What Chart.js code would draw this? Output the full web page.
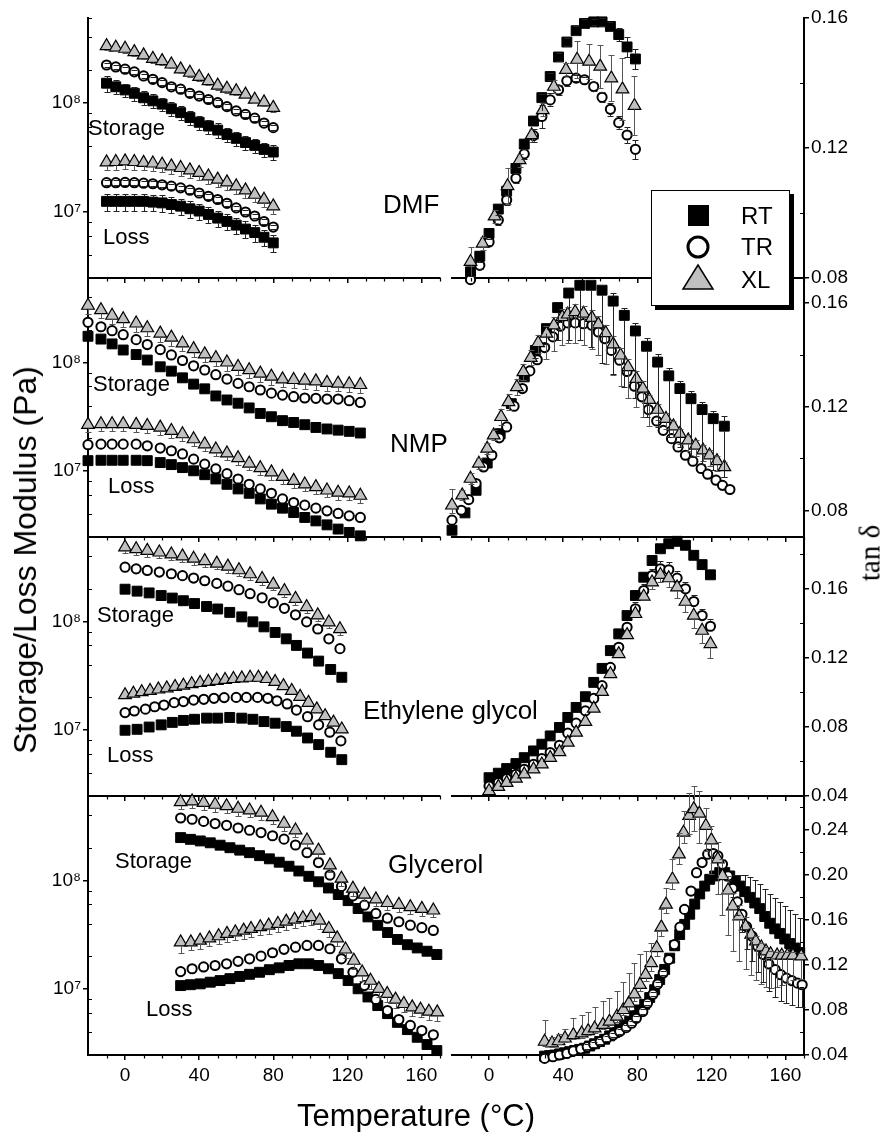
<!DOCTYPE html>
<html>
<head>
<meta charset="utf-8">
<title>Storage/Loss modulus and tan δ</title>
<script src="https://cdn.jsdelivr.net/npm/chart.js@4.4.1/dist/chart.umd.min.js"></script>
<style>
  body { margin: 0; background: #fff; }
  #fig { position: relative; width: 893px; height: 1132px; overflow: hidden; background: #fff;
         font-family: Arial, "Liberation Sans", Helvetica, sans-serif; color: #000; }
  #fig canvas { position: absolute; }
  .txt { position: absolute; white-space: nowrap; line-height: 1; z-index: 5; }
  .rot { transform: translate(-50%, -50%) rotate(-90deg); }
  #legend { position: absolute; left: 651px; top: 190px; width: 137px; height: 114px; background: #fff;
            border: 1px solid #000; box-shadow: 4px 4px 0 #000; z-index: 6; }
  #legend span { position: absolute; left: 89px; font-size: 24px; line-height: 1; }
</style>
</head>
<body>
<div id="fig">
  <div class="txt" style="left:88px;top:117px;font-size:22px">Storage</div>
  <div class="txt" style="left:103px;top:226px;font-size:22px">Loss</div>
  <div class="txt" style="left:383px;top:191px;font-size:26px">DMF</div>

  <div class="txt" style="left:93px;top:373px;font-size:22px">Storage</div>
  <div class="txt" style="left:108px;top:475px;font-size:22px">Loss</div>
  <div class="txt" style="left:390px;top:430px;font-size:26px">NMP</div>

  <div class="txt" style="left:97px;top:604px;font-size:22px">Storage</div>
  <div class="txt" style="left:107px;top:744px;font-size:22px">Loss</div>
  <div class="txt" style="left:363px;top:697px;font-size:26px">Ethylene glycol</div>

  <div class="txt" style="left:115px;top:850px;font-size:22px">Storage</div>
  <div class="txt" style="left:146px;top:998px;font-size:22px">Loss</div>
  <div class="txt" style="left:388px;top:851px;font-size:26px">Glycerol</div>

  <div class="txt" style="left:416px;top:1100px;font-size:31px;transform:translateX(-50%)">Temperature (°C)</div>
  <div class="txt rot" style="left:25px;top:560px;font-size:32px">Storage/Loss Modulus (Pa)</div>
  <div class="txt rot" style="left:870px;top:553px;font-size:29px;font-family:'Liberation Serif','Times New Roman',serif">tan δ</div>

  <div id="legend">
    <svg width="137" height="114" style="position:absolute;left:0;top:0">
      <rect x="36" y="14" width="21" height="21" fill="#000"/>
      <circle cx="46" cy="56" r="10" fill="#fff" stroke="#000" stroke-width="3"/>
      <polygon points="46,74 31,98 61,98" fill="#c0c0c0" stroke="#000" stroke-width="1.5"/>
    </svg>
    <span style="top:13px">RT</span>
    <span style="top:44px">TR</span>
    <span style="top:77px">XL</span>
  </div>
</div>

<script>
// ---------------- DMF ----------------
const dmfT = [-10, -5, 0, 5, 10, 15, 20, 25, 30, 35, 40, 45, 50, 55, 60, 65, 70, 75, 80];
const dmfStoXL = [3.32e8, 3.21e8, 3.14e8, 2.93e8, 2.73e8, 2.54e8, 2.42e8, 2.25e8, 2.03e8, 1.89e8, 1.73e8, 1.58e8, 1.44e8, 1.35e8, 1.28e8, 1.19e8, 1.07e8, 1.01e8, 9.0e7];
const dmfStoTR = [2.22e8, 2.13e8, 2.03e8, 1.92e8, 1.76e8, 1.64e8, 1.53e8, 1.40e8, 1.33e8, 1.22e8, 1.15e8, 1.07e8, 1.00e8, 9.2e7, 8.4e7, 7.8e7, 7.2e7, 6.5e7, 5.9e7];
const dmfStoRT = [1.51e8, 1.40e8, 1.31e8, 1.22e8, 1.11e8, 1.04e8, 9.7e7, 8.8e7, 8.1e7, 7.3e7, 6.6e7, 6.1e7, 5.6e7, 5.1e7, 4.7e7, 4.3e7, 4.05e7, 3.72e7, 3.52e7];
const dmfLosXL = [2.84e7, 2.86e7, 2.90e7, 2.86e7, 2.81e7, 2.77e7, 2.71e7, 2.61e7, 2.52e7, 2.40e7, 2.27e7, 2.11e7, 1.97e7, 1.86e7, 1.71e7, 1.57e7, 1.43e7, 1.29e7, 1.12e7];
const dmfLosTR = [1.84e7, 1.84e7, 1.85e7, 1.84e7, 1.82e7, 1.80e7, 1.76e7, 1.71e7, 1.65e7, 1.57e7, 1.48e7, 1.38e7, 1.29e7, 1.19e7, 1.08e7, 9.9e6, 9.1e6, 8.1e6, 7.2e6];
const dmfLosRT = [1.24e7, 1.24e7, 1.24e7, 1.24e7, 1.24e7, 1.22e7, 1.20e7, 1.16e7, 1.12e7, 1.06e7, 1.01e7, 9.4e6, 8.7e6, 8.1e6, 7.5e6, 6.9e6, 6.4e6, 5.8e6, 5.15e6];
const dmfStoXLErr = [2.6e7, 2.5e7, 2.5e7, 2.3e7, 2.2e7, 2.0e7, 1.9e7, 1.8e7, 1.6e7, 1.5e7, 1.4e7, 1.3e7, 1.2e7, 1.1e7, 1.0e7, 9.5e6, 8.6e6, 8.0e6, 7.2e6];
const dmfStoTRErr = [1.1e7, 1.0e7, 1.0e7, 9.5e6, 9.0e6, 8.0e6, 7.5e6, 7.0e6, 6.5e6, 6.0e6, 5.5e6, 5.0e6, 5.0e6, 4.5e6, 4.0e6, 4.0e6, 3.5e6, 3.2e6, 3.0e6];
const dmfStoRTErr = [2.5e7, 2.1e7, 1.9e7, 1.8e7, 1.6e7, 1.5e7, 1.4e7, 1.3e7, 1.2e7, 1.1e7, 1.0e7, 9.0e6, 8.4e6, 7.6e6, 7.0e6, 6.4e6, 6.0e6, 5.6e6, 5.3e6];
const dmfLosXLErr = [4.3e6, 4.3e6, 4.4e6, 4.3e6, 4.2e6, 4.2e6, 4.1e6, 3.9e6, 3.8e6, 3.6e6, 3.4e6, 3.2e6, 3.0e6, 2.8e6, 2.6e6, 2.4e6, 2.1e6, 1.9e6, 1.7e6];
const dmfLosTRErr = [9e5, 9e5, 9e5, 9e5, 9e5, 9e5, 9e5, 8.5e5, 8e5, 8e5, 7e5, 7e5, 6.5e5, 6e5, 5.5e5, 5e5, 4.5e5, 4e5, 3.5e5];
const dmfLosRTErr = [2.2e6, 2.2e6, 2.2e6, 2.2e6, 2.2e6, 2.1e6, 2.1e6, 2.0e6, 1.9e6, 1.8e6, 1.7e6, 1.6e6, 1.5e6, 1.4e6, 1.3e6, 1.2e6, 1.1e6, 1.0e6, 9e5];

const dmfTanT = [-10, -5, 0, 5, 9.5, 14.5, 19, 24, 28.5, 33, 37.5, 42, 47, 51.5, 56.5, 61, 65.5, 70, 74.5, 79];
const dmfTanRT = [0.0819, 0.0867, 0.0937, 0.1012, 0.1067, 0.1137, 0.1212, 0.1283, 0.1355, 0.1420, 0.1480, 0.1526, 0.1561, 0.1583, 0.1588, 0.1588, 0.1574, 0.1549, 0.1511, 0.1474];
const dmfTanTR = [0.0795, 0.0839, 0.0911, 0.0978, 0.1040, 0.1107, 0.1182, 0.1238, 0.1297, 0.1348, 0.1379, 0.1407, 0.1415, 0.1410, 0.1389, 0.1356, 0.1319, 0.1278, 0.1240, 0.1196];
const dmfTanXLT = [-10, -3.5, 3, 10, 16.5, 23, 29, 35, 41.5, 47.5, 54, 60, 66, 72, 78.5];
const dmfTanXL = [0.0850, 0.0906, 0.0990, 0.1083, 0.1163, 0.1240, 0.1317, 0.1389, 0.1441, 0.1472, 0.1466, 0.1451, 0.1415, 0.1381, 0.1330];
const dmfTanRTErr = [0, 0, 0, 0, 0, 0, 0, 0, 0.0012, 0.0012, 0.0012, 0.0012, 0.0013, 0.0013, 0.001, 0.0012, 0.0015, 0.002, 0.003, 0.0032];
const dmfTanTRErr = [0.001, 0.001, 0.001, 0.0015, 0.0015, 0.0015, 0.0015, 0.002, 0.0035, 0.002, 0.0015, 0.0015, 0.001, 0.001, 0.0015, 0.0015, 0.002, 0.002, 0.0025, 0.003];
const dmfTanXLErr = [0.0045, 0.002, 0.002, 0.0055, 0.002, 0.002, 0.002, 0.002, 0.002, 0.0057, 0.0055, 0.0067, 0.007, 0.0095, 0.009];

// ---------------- NMP ----------------
const nmpT = [-20, -13, -7, -1, 6, 12, 19, 25, 31, 37, 43, 49, 55, 61, 67, 73, 79, 85, 91, 97, 103, 109, 115, 121, 127];
const nmpStoXL = [3.34e8, 3.04e8, 2.70e8, 2.51e8, 2.29e8, 2.07e8, 1.85e8, 1.70e8, 1.50e8, 1.33e8, 1.19e8, 1.10e8, 1.00e8, 9.1e7, 8.5e7, 7.9e7, 7.4e7, 7.0e7, 6.9e7, 6.8e7, 6.7e7, 6.5e7, 6.4e7, 6.3e7, 6.2e7];
const nmpStoTR = [2.34e8, 2.13e8, 1.96e8, 1.80e8, 1.62e8, 1.46e8, 1.31e8, 1.17e8, 1.04e8, 9.3e7, 8.5e7, 7.7e7, 7.0e7, 6.4e7, 5.96e7, 5.56e7, 5.2e7, 4.99e7, 4.82e7, 4.69e7, 4.66e7, 4.59e7, 4.59e7, 4.43e7, 4.27e7];
const nmpStoRT = [1.74e8, 1.64e8, 1.48e8, 1.30e8, 1.18e8, 1.05e8, 9.1e7, 8.3e7, 7.2e7, 6.3e7, 5.7e7, 4.9e7, 4.5e7, 4.2e7, 3.8e7, 3.38e7, 3.15e7, 2.90e7, 2.79e7, 2.66e7, 2.51e7, 2.43e7, 2.37e7, 2.31e7, 2.23e7];
const nmpLosXL = [2.66e7, 2.70e7, 2.70e7, 2.70e7, 2.66e7, 2.60e7, 2.51e7, 2.34e7, 2.18e7, 1.96e7, 1.76e7, 1.58e7, 1.45e7, 1.31e7, 1.17e7, 1.06e7, 9.7e6, 8.8e6, 8.1e6, 7.5e6, 7.1e6, 6.6e6, 6.3e6, 6.2e6, 5.9e6];
const nmpLosTR = [1.74e7, 1.76e7, 1.76e7, 1.76e7, 1.76e7, 1.70e7, 1.62e7, 1.53e7, 1.43e7, 1.28e7, 1.15e7, 1.04e7, 9.4e6, 8.4e6, 7.5e6, 6.8e6, 6.2e6, 5.5e6, 5.1e6, 4.82e6, 4.52e6, 4.27e6, 4.04e6, 3.84e6, 3.71e6];
const nmpLosRT = [1.24e7, 1.25e7, 1.25e7, 1.25e7, 1.25e7, 1.24e7, 1.19e7, 1.14e7, 1.07e7, 1.00e7, 9.2e6, 8.4e6, 7.5e6, 6.8e6, 6.2e6, 5.5e6, 4.92e6, 4.52e6, 4.12e6, 3.71e6, 3.45e6, 3.17e6, 2.90e6, 2.70e6, 2.51e6];
const nmpStoXLErr = [5.3e7, 4.9e7, 4.3e7, 4.0e7, 3.7e7, 3.3e7, 3.0e7, 2.7e7, 2.4e7, 2.1e7, 1.9e7, 1.8e7, 1.6e7, 1.5e7, 1.4e7, 1.3e7, 1.2e7, 1.1e7, 1.1e7, 1.1e7, 1.1e7, 1.0e7, 1.0e7, 1.0e7, 1.0e7];
const nmpLosXLErr = [3.7e6, 3.8e6, 3.8e6, 3.8e6, 3.7e6, 3.6e6, 3.5e6, 3.3e6, 3.1e6, 2.7e6, 2.5e6, 2.2e6, 2.0e6, 1.8e6, 1.6e6, 1.5e6, 1.4e6, 1.2e6, 1.1e6, 1.05e6, 1.0e6, 9.2e5, 8.8e5, 8.7e5, 8.3e5];

const nmpTanRT = [0.0723, 0.0790, 0.0877, 0.0982, 0.1095, 0.1211, 0.1314, 0.1416, 0.1500, 0.1581, 0.1637, 0.1667, 0.1667, 0.1648, 0.1606, 0.1551, 0.1491, 0.1432, 0.1371, 0.1318, 0.1269, 0.1230, 0.1188, 0.1153, 0.1124];
const nmpTanRTUp = [0, 0, 0, 0, 0, 0, 0, 0, 0, 0, 0, 0, 0.002, 0.002, 0.003, 0.003, 0.003, 0.003, 0.003, 0.003, 0.003, 0.003, 0.003, 0.003, 0.004];
const nmpTanRTDn = [0, 0, 0, 0, 0, 0, 0, 0.003, 0.006, 0.0126, 0.018, 0.021, 0.0237, 0.028, 0.028, 0.0276, 0.026, 0.0272, 0.025, 0.0235, 0.0225, 0.0225, 0.0208, 0.0199, 0.0195];
const nmpTanTRT = [-20, -15, -11, -7, -3, 1.5, 5.5, 9.5, 13.5, 18, 22, 26, 30, 34.5, 38.5, 42.5, 46.5, 51, 55.5, 59, 62.5, 66, 70.5, 74.5, 78.5, 82.5, 86, 90.5, 94, 98.5, 102, 106, 110, 114.5, 118, 122.5, 126, 130];
const nmpTanTR = [0.0762, 0.0800, 0.0841, 0.0903, 0.0967, 0.1012, 0.1079, 0.1121, 0.1201, 0.1269, 0.1337, 0.1380, 0.1427, 0.1468, 0.1509, 0.1522, 0.1522, 0.1519, 0.1513, 0.1487, 0.1461, 0.1416, 0.1378, 0.1335, 0.1278, 0.1237, 0.1188, 0.1144, 0.1108, 0.1076, 0.1044, 0.1012, 0.0989, 0.0961, 0.0939, 0.0916, 0.0896, 0.0880];
const nmpTanXLT = [-20, -14.5, -10, -5.5, -1, 2.5, 6.5, 10.5, 15, 18.5, 22.5, 26.5, 31, 35, 39.5, 42.5, 46.5, 51, 55.5, 59, 63, 67, 71, 75, 79.5, 83, 86.5, 91, 95.5, 99.5, 103, 107.5, 111.5, 115.5, 119, 123, 127];
const nmpTanXL = [0.0819, 0.0858, 0.0922, 0.0980, 0.1038, 0.1089, 0.1160, 0.1217, 0.1275, 0.1333, 0.1388, 0.1445, 0.1481, 0.1513, 0.1545, 0.1555, 0.1564, 0.1558, 0.1542, 0.1517, 0.1483, 0.1440, 0.1397, 0.1352, 0.1307, 0.1269, 0.1226, 0.1188, 0.1153, 0.1124, 0.1095, 0.1070, 0.1050, 0.1031, 0.1012, 0.0990, 0.0967];
const nmpTanXLUp = [0.0064, 0.002, 0.002, 0.002, 0.002, 0.002, 0.003, 0.003, 0.003, 0.003, 0.003, 0.003, 0.003, 0.003, 0.003, 0.003, 0.003, 0.003, 0.003, 0.003, 0.003, 0.003, 0.003, 0.003, 0.003, 0.003, 0.002, 0.002, 0.002, 0.002, 0.002, 0.002, 0.002, 0.002, 0.002, 0.002, 0.002];
const nmpTanXLDn = [0.003, 0.002, 0.002, 0.002, 0.002, 0.002, 0.003, 0.003, 0.003, 0.003, 0.003, 0.004, 0.01, 0.01, 0.011, 0.011, 0.012, 0.012, 0.012, 0.012, 0.012, 0.012, 0.012, 0.012, 0.011, 0.011, 0.01, 0.004, 0.004, 0.004, 0.004, 0.004, 0.004, 0.004, 0.004, 0.004, 0.004];

// ---------------- Ethylene glycol ----------------
const glyT_RT = [0, 6.5, 13, 19.5, 25.5, 31.5, 37.5, 44, 50, 56.5, 63, 69, 75, 81, 87, 92.5, 98.5, 104.5, 111, 117];
const glyStoRT = [1.98e8, 1.90e8, 1.83e8, 1.73e8, 1.64e8, 1.55e8, 1.46e8, 1.37e8, 1.30e8, 1.21e8, 1.10e8, 9.9e7, 8.9e7, 7.9e7, 6.9e7, 6.0e7, 5.1e7, 4.3e7, 3.6e7, 3.05e7];
const glyLosRT = [9.9e6, 1.01e7, 1.06e7, 1.11e7, 1.17e7, 1.22e7, 1.25e7, 1.28e7, 1.28e7, 1.30e7, 1.28e7, 1.25e7, 1.19e7, 1.15e7, 1.07e7, 9.7e6, 8.4e6, 7.3e6, 6.2e6, 5.3e6];
const glyT_Sto = [0, 6, 12, 18.5, 25, 31, 37, 43, 49.5, 55.5, 61.5, 67.5, 74, 80, 86, 92, 98, 104, 110, 116];
const glyStoTR = [3.16e8, 3.05e8, 2.95e8, 2.85e8, 2.75e8, 2.64e8, 2.51e8, 2.37e8, 2.24e8, 2.11e8, 1.96e8, 1.80e8, 1.65e8, 1.48e8, 1.32e8, 1.15e8, 9.9e7, 8.5e7, 6.9e7, 5.6e7];
const glyStoXL = [4.82e8, 4.65e8, 4.49e8, 4.33e8, 4.16e8, 3.99e8, 3.80e8, 3.61e8, 3.42e8, 3.21e8, 2.97e8, 2.73e8, 2.47e8, 2.19e8, 1.91e8, 1.62e8, 1.36e8, 1.14e8, 9.8e7, 8.5e7];
const glyStoXLErr = [5.8e7, 5.6e7, 5.4e7, 5.2e7, 5.0e7, 4.8e7, 4.6e7, 4.3e7, 4.1e7, 3.9e7, 3.6e7, 3.3e7, 3.0e7, 2.6e7, 2.3e7, 1.9e7, 1.6e7, 1.4e7, 1.2e7, 1.0e7];
const glyT_LosTR = [0, 5, 11, 16, 21, 26.5, 31.5, 37, 42.5, 48, 53.5, 60, 65.5, 71.5, 77, 82, 87.5, 92.5, 98.5, 104.5, 110.5, 116.5];
const glyLosTR = [1.44e7, 1.49e7, 1.55e7, 1.63e7, 1.69e7, 1.78e7, 1.82e7, 1.88e7, 1.91e7, 1.95e7, 1.98e7, 1.99e7, 1.99e7, 1.99e7, 1.95e7, 1.85e7, 1.73e7, 1.52e7, 1.32e7, 1.11e7, 9.5e6, 7.9e6];
const glyT_LosXL = [0, 4.5, 9, 13.5, 18, 22.5, 27, 31.5, 36, 40.5, 45, 49.5, 54, 58.5, 63, 67.5, 72, 76.5, 81, 85.5, 90, 94.5, 99, 103.5, 108, 112.5, 117];
const glyLosXL = [2.09e7, 2.16e7, 2.23e7, 2.29e7, 2.36e7, 2.42e7, 2.49e7, 2.56e7, 2.64e7, 2.71e7, 2.77e7, 2.83e7, 2.89e7, 2.95e7, 2.99e7, 3.03e7, 3.03e7, 2.95e7, 2.77e7, 2.54e7, 2.29e7, 2.02e7, 1.78e7, 1.55e7, 1.34e7, 1.17e7, 1.01e7];

const glyTanT = [0, 5, 9.5, 14.5, 19, 24, 28.5, 33, 38, 42.5, 47, 52, 56.5, 61, 65.5, 70, 74.5, 79, 83.5, 88, 92.5, 97, 101.5, 106, 110.5, 115, 119.5];
const glyTanRT = [0.0506, 0.0532, 0.0559, 0.0588, 0.0622, 0.0661, 0.0700, 0.0748, 0.0797, 0.0855, 0.0913, 0.0975, 0.1058, 0.1139, 0.1242, 0.1339, 0.1445, 0.1561, 0.1667, 0.1764, 0.1832, 0.1861, 0.1875, 0.1852, 0.1794, 0.1740, 0.1681];
const glyTanTR = [0.0458, 0.0477, 0.0501, 0.0526, 0.0555, 0.0584, 0.0617, 0.0652, 0.0694, 0.0764, 0.0822, 0.0893, 0.0965, 0.1039, 0.1145, 0.1261, 0.1377, 0.1484, 0.1590, 0.1677, 0.1716, 0.1710, 0.1662, 0.1600, 0.1526, 0.1445, 0.1383];
const glyTanXL = [0.0429, 0.0454, 0.0477, 0.0501, 0.0526, 0.0555, 0.0584, 0.0622, 0.0655, 0.0710, 0.0768, 0.0830, 0.0907, 0.1004, 0.1107, 0.1223, 0.1333, 0.1455, 0.1555, 0.1638, 0.1681, 0.1662, 0.1609, 0.1526, 0.1445, 0.1358, 0.1281];
const glyTanTRUp = [0, 0, 0, 0, 0, 0, 0, 0, 0, 0, 0, 0, 0, 0, 0, 0, 0, 0.004, 0.004, 0.004, 0.0045, 0.0045, 0.004, 0.004, 0.004, 0.004, 0.004];
const glyTanXLDn = [0, 0, 0, 0, 0, 0, 0, 0, 0, 0, 0, 0, 0, 0, 0, 0, 0, 0, 0, 0.004, 0.004, 0.005, 0.006, 0.006, 0.007, 0.007, 0.008];

// ---------------- Glycerol ----------------
const glcT_RT = [30, 35.3, 40.6, 46, 51.3, 56.6, 61.9, 67.2, 72.6, 77.9, 83.2, 88.5, 93.8, 99.2, 104.5, 109.8, 115.1, 120.4, 125.8, 131.1, 136.4, 141.7, 147, 152.4, 157.7, 163, 168.3];
const glcStoRT = [2.48e8, 2.39e8, 2.31e8, 2.22e8, 2.11e8, 2.0e8, 1.9e8, 1.8e8, 1.69e8, 1.58e8, 1.47e8, 1.35e8, 1.22e8, 1.09e8, 9.7e7, 8.5e7, 7.4e7, 6.5e7, 5.5e7, 4.6e7, 3.85e7, 3.3e7, 2.85e7, 2.55e7, 2.38e7, 2.22e7, 2.07e7];
const glcLosRT = [1.07e7, 1.09e7, 1.11e7, 1.15e7, 1.19e7, 1.24e7, 1.30e7, 1.36e7, 1.42e7, 1.50e7, 1.56e7, 1.64e7, 1.70e7, 1.70e7, 1.64e7, 1.53e7, 1.38e7, 1.19e7, 1.0e7, 8.4e6, 7.0e6, 5.9e6, 4.9e6, 4.2e6, 3.57e6, 3.06e6, 2.69e6];
const glcT = [30, 36.2, 42.4, 48.6, 54.8, 61, 67.2, 73.4, 79.6, 85.8, 92, 98.2, 104.4, 110.6, 116.8, 123, 129.2, 135.4, 141.6, 147.8, 154, 160.2, 166.4];
const glcStoTR = [3.76e8, 3.66e8, 3.50e8, 3.34e8, 3.22e8, 3.04e8, 2.90e8, 2.76e8, 2.58e8, 2.40e8, 2.12e8, 1.80e8, 1.46e8, 1.12e8, 8.8e7, 7.2e7, 5.9e7, 4.95e7, 4.48e7, 4.15e7, 3.86e7, 3.66e7, 3.45e7];
const glcStoXL = [5.28e8, 5.36e8, 5.21e8, 5.0e8, 4.85e8, 4.59e8, 4.43e8, 4.22e8, 3.84e8, 3.34e8, 2.90e8, 2.34e8, 1.89e8, 1.38e8, 1.04e8, 8.4e7, 7.4e7, 6.7e7, 6.2e7, 5.97e7, 5.68e7, 5.48e7, 5.29e7];
const glcStoXLErr = [7.4e7, 7.5e7, 7.3e7, 7.0e7, 6.8e7, 6.4e7, 6.2e7, 5.9e7, 5.4e7, 4.7e7, 4.1e7, 3.3e7, 2.6e7, 1.9e7, 1.5e7, 1.2e7, 1.0e7, 9.4e6, 8.7e6, 8.4e6, 8.0e6, 7.7e6, 7.4e6];
const glcLosTR = [1.44e7, 1.53e7, 1.59e7, 1.64e7, 1.70e7, 1.79e7, 1.89e7, 2.0e7, 2.15e7, 2.31e7, 2.42e7, 2.51e7, 2.51e7, 2.34e7, 1.89e7, 1.42e7, 1.07e7, 7.97e6, 6.3e6, 5.2e6, 4.59e6, 4.12e6, 3.76e6];
const glcT_LosXL = [30, 35.5, 40.5, 45.5, 50.5, 55, 59.5, 64, 68, 73, 77.5, 82.5, 87, 91.5, 96, 100.5, 105, 110, 114.5, 119, 123.5, 128, 132.5, 137, 141.5, 146, 150.5, 155, 159.5, 164, 168.5];
const glcLosXL = [2.69e7, 2.69e7, 2.79e7, 2.93e7, 3.06e7, 3.22e7, 3.33e7, 3.45e7, 3.58e7, 3.71e7, 3.84e7, 3.98e7, 4.18e7, 4.36e7, 4.49e7, 4.59e7, 4.27e7, 3.58e7, 2.93e7, 2.31e7, 1.82e7, 1.42e7, 1.19e7, 1.0e7, 9.0e6, 7.97e6, 7.26e6, 6.76e6, 6.44e6, 6.17e6, 6.08e6];
const glcLosXLErr = [5.6e6, 4.3e6, 4.5e6, 4.7e6, 4.9e6, 5.2e6, 5.3e6, 5.5e6, 5.7e6, 5.9e6, 6.1e6, 6.4e6, 6.7e6, 7.0e6, 7.2e6, 7.3e6, 6.8e6, 5.7e6, 4.7e6, 3.7e6, 2.9e6, 2.3e6, 1.9e6, 1.6e6, 1.4e6, 1.3e6, 1.2e6, 1.1e6, 1.0e6, 1.0e6, 1.0e6];

const glcTanRT_T = [30, 32.7, 35.4, 38.1, 40.8, 43.5, 46.2, 48.9, 51.6, 54.3, 57, 59.7, 62.4, 65.1, 67.8, 70.5, 73.2, 75.9, 78.6, 81.3, 84, 86.7, 89.4, 92.1, 94.8, 97.5, 100.2, 102.9, 105.6, 108.3, 111, 113.7, 116.4, 119.1, 121.8, 124.5, 127.2, 129.9, 132.6, 135.3, 138, 140.7, 143.4, 146.1, 148.8, 151.5, 154.2, 156.9, 159.6, 162.3, 165, 167.7];
const glcTanRT = [0.039, 0.0395, 0.040, 0.041, 0.042, 0.043, 0.044, 0.045, 0.046, 0.048, 0.050, 0.052, 0.054, 0.057, 0.060, 0.063, 0.066, 0.070, 0.075, 0.080, 0.085, 0.091, 0.098, 0.107, 0.116, 0.126, 0.137, 0.147, 0.156, 0.165, 0.174, 0.183, 0.190, 0.196, 0.199, 0.202, 0.202, 0.199, 0.195, 0.190, 0.185, 0.180, 0.175, 0.170, 0.163, 0.157, 0.152, 0.148, 0.143, 0.139, 0.135, 0.131];
const glcTanRTUp = [0, 0, 0, 0, 0, 0, 0, 0, 0, 0, 0, 0, 0, 0, 0, 0, 0, 0, 0, 0, 0, 0, 0, 0, 0, 0, 0, 0, 0, 0, 0, 0, 0, 0, 0, 0, 0, 0, 0.005, 0.01, 0.015, 0.018, 0.02, 0.022, 0.024, 0.026, 0.027, 0.028, 0.029, 0.03, 0.03, 0.031];
const glcTanTRT = [30, 34.5, 38, 42, 45.5, 49.5, 53, 56.5, 60, 63.5, 67, 70.5, 74, 77, 79.5, 83, 85.5, 88.5, 91, 94, 97, 100, 103, 105.5, 109, 112, 115, 118, 121, 123.5, 126, 129, 131.5, 134, 136.5, 139, 142, 145, 148, 151, 154.5, 157.5, 160.5, 163.5, 166.5, 169];
const glcTanTR = [0.037, 0.0385, 0.040, 0.0414, 0.0436, 0.0453, 0.0474, 0.0495, 0.0519, 0.0548, 0.0578, 0.0608, 0.0643, 0.0682, 0.0726, 0.0786, 0.086, 0.094, 0.103, 0.1128, 0.1247, 0.1381, 0.1535, 0.1693, 0.1856, 0.2019, 0.2109, 0.2183, 0.2189, 0.2168, 0.2094, 0.199, 0.188, 0.176, 0.165, 0.154, 0.1455, 0.1366, 0.1292, 0.1208, 0.1158, 0.1113, 0.1083, 0.106, 0.1038, 0.1024];
const glcTanTRUp = [0, 0, 0, 0, 0, 0, 0.002, 0.002, 0.002, 0.002, 0.002, 0.002, 0.002, 0.002, 0.002, 0.002, 0.002, 0.002, 0.002, 0.002, 0, 0, 0, 0, 0, 0, 0, 0, 0, 0, 0, 0, 0, 0, 0, 0, 0, 0, 0, 0, 0, 0, 0, 0, 0, 0];
const glcTanTRDn = [0, 0, 0, 0, 0, 0, 0.002, 0.002, 0.002, 0.002, 0.002, 0.002, 0.002, 0.002, 0.002, 0.002, 0.002, 0.002, 0.002, 0.002, 0, 0, 0, 0, 0, 0, 0, 0, 0, 0, 0, 0.004, 0.008, 0.012, 0.016, 0.02, 0.022, 0.023, 0.024, 0.024, 0.024, 0.023, 0.022, 0.022, 0.021, 0.02];
const glcTanXLT = [30, 34, 37.5, 41, 45.5, 50, 53.5, 57, 61.5, 65, 69, 72.5, 75.5, 78.5, 81.5, 84.5, 87.5, 90.5, 93, 95.5, 99, 102.5, 105, 108, 110.5, 113.5, 117, 120, 123.5, 126, 129, 131.5, 135, 138.5, 141.5, 144, 147, 149.5, 152, 155.5, 158, 161, 164, 168.5];
const glcTanXL = [0.0519, 0.0504, 0.0525, 0.0548, 0.0578, 0.0593, 0.0614, 0.0637, 0.0668, 0.0697, 0.0742, 0.0801, 0.0860, 0.0940, 0.1024, 0.1113, 0.1217, 0.1351, 0.1535, 0.1737, 0.1960, 0.2183, 0.2376, 0.2525, 0.2585, 0.2545, 0.2436, 0.2308, 0.2139, 0.1990, 0.1862, 0.1722, 0.1633, 0.1544, 0.1470, 0.1410, 0.1357, 0.1321, 0.1297, 0.1285, 0.1283, 0.1283, 0.1283, 0.1277];
const glcTanXLUp = [0.019, 0.006, 0.006, 0.008, 0.015, 0.016, 0.017, 0.019, 0.021, 0.021, 0.023, 0.025, 0.027, 0.028, 0.027, 0.021, 0.018, 0.015, 0.016, 0.015, 0.018, 0.019, 0.019, 0.02, 0.02, 0.02, 0.016, 0.013, 0.015, 0.015, 0.013, 0.012, 0.01, 0.008, 0.006, 0.005, 0.004, 0.004, 0.003, 0.003, 0.003, 0.003, 0.003, 0.003];
const glcTanXLDn = [0.004, 0.003, 0.003, 0.003, 0.004, 0.004, 0.004, 0.004, 0.004, 0.005, 0.005, 0.005, 0.006, 0.006, 0.006, 0.006, 0.007, 0.007, 0.008, 0.008, 0.009, 0.009, 0.009, 0.016, 0.02, 0.026, 0.022, 0.03, 0.031, 0.035, 0.04, 0.04, 0.04, 0.038, 0.036, 0.034, 0.033, 0.032, 0.03, 0.028, 0.026, 0.024, 0.022, 0.02];

// ---------------- layout ----------------
const rowTop = [18, 278, 537, 796];
const rowBot = [278, 537, 796, 1055];
const PAD = 16;
const fig = document.getElementById('fig');

Chart.defaults.font.family = 'Arial, "Liberation Sans", Helvetica, sans-serif';
Chart.defaults.color = '#000';

const styles = {
  RT: { pointStyle: 'rect', pointRadius: 7, pointBackgroundColor: '#000', pointBorderColor: '#000', pointBorderWidth: 1, gapUp: 5, gapDn: 5, errColor: '#222' },
  TR: { pointStyle: 'circle', pointRadius: 4.6, pointBackgroundColor: '#fff', pointBorderColor: '#000', pointBorderWidth: 2, gapUp: 5.6, gapDn: 5.6, errColor: '#222' },
  XL: { pointStyle: 'triangle', pointRadius: 7.3, pointBackgroundColor: '#c0c0c0', pointBorderColor: '#000', pointBorderWidth: 1.2, gapUp: 7.3, gapDn: 3.6, errColor: '#555' }
};

function ser(kind, xs, ys, extra) {
  return Object.assign({
    data: xs.map((x, i) => ({ x: x, y: ys[i] })),
    showLine: false,
    pointHoverRadius: 0,
    clip: false
  }, styles[kind], extra || {});
}

// error bars drawn from the dataset's own y scale
const errorBars = {
  id: 'errorBars',
  afterDatasetsDraw(chart) {
    const ctx = chart.ctx;
    chart.data.datasets.forEach((ds, i) => {
      const up = ds.errUp || ds.err, dn = ds.errDown || ds.err;
      if (!up && !dn) return;
      const meta = chart.getDatasetMeta(i);
      const ys = chart.scales[meta.yAxisID];
      ctx.save();
      ctx.strokeStyle = ds.errColor;
      ctx.lineWidth = 1;
      ctx.beginPath();
      meta.data.forEach((el, j) => {
        const v = ds.data[j].y, x = Math.round(el.x) + 0.5;
        if (up && up[j]) {
          const yt = Math.round(ys.getPixelForValue(v + up[j])) + 0.5;
          if (yt < el.y - ds.gapUp) { ctx.moveTo(x, el.y - ds.gapUp); ctx.lineTo(x, yt); }
          ctx.moveTo(x - 3, yt); ctx.lineTo(x + 3, yt);
        }
        if (dn && dn[j] && v - dn[j] > 0) {
          const yb = Math.round(ys.getPixelForValue(v - dn[j])) + 0.5;
          if (yb > el.y + ds.gapDn) { ctx.moveTo(x, el.y + ds.gapDn); ctx.lineTo(x, yb); }
          ctx.moveTo(x - 3, yb); ctx.lineTo(x + 3, yb);
        }
      });
      ctx.stroke();
      ctx.restore();
    });
  }
};

// small minor ticks on the axes
const minorTicks = {
  id: 'minorTicks',
  afterDraw(chart) {
    const ctx = chart.ctx, xs = chart.scales.x, ys = chart.scales.y, a = chart.chartArea;
    ctx.save();
    ctx.strokeStyle = '#000';
    ctx.lineWidth = 1.2;
    ctx.beginPath();
    for (let t = -10; t <= 170; t += 10) {
      if (t % 40 === 0) continue;
      const px = Math.round(xs.getPixelForValue(t)) + 0.5;
      ctx.moveTo(px, a.bottom); ctx.lineTo(px, a.bottom + 3.5);
    }
    if (ys.type === 'logarithmic') {
      [1e6, 1e7, 1e8].forEach(d => [2, 4, 6, 8].forEach(m => {
        const v = d * m;
        if (v < ys.min || v > ys.max) return;
        const py = Math.round(ys.getPixelForValue(v)) + 0.5;
        ctx.moveTo(a.left, py); ctx.lineTo(a.left + 4, py);
      }));
    } else {
      for (let k = 1; k < 15; k += 2) {
        const v = k * 0.02;
        if (v < ys.min || v > ys.max) continue;
        const py = Math.round(ys.getPixelForValue(v)) + 0.5;
        ctx.moveTo(a.right, py); ctx.lineTo(a.right - 4, py);
      }
    }
    ctx.stroke();
    ctx.restore();
  }
};

function panel(row, side, datasets, yOpts) {
  const top = rowTop[row], bot = rowBot[row];
  const xh = row === 3 ? 50 : 16;
  const w = side === 'L' ? 452 : 453;
  const h = PAD + (bot - top) + xh;
  const cv = document.createElement('canvas');
  cv.width = w; cv.height = h;
  cv.style.left = (side === 'L' ? 0 : 440) + 'px';
  cv.style.top = (top - PAD) + 'px';
  cv.style.width = w + 'px'; cv.style.height = h + 'px';
  fig.appendChild(cv);

  const axisGrid = { display: true, drawOnChartArea: false, drawTicks: true, tickLength: 5, color: '#000', lineWidth: 1.5 };
  const axisBorder = { display: true, color: '#000', width: 2 };
  const y = side === 'L' ? {
    type: 'logarithmic', position: 'left', min: 2.45e6, max: 6.0e8,
    afterBuildTicks: s => { s.ticks = [{ value: 1e7 }, { value: 1e8 }]; },
    afterFit: s => { s.width = 88; },
    grid: axisGrid, border: axisBorder,
    ticks: { autoSkip: false, font: { size: 19 }, color: '#000', padding: 2,
             callback: v => (v === 1e8 ? '10\u2078' : '10\u2077') }
  } : {
    type: 'linear', position: 'right', min: yOpts.min, max: yOpts.max,
    afterBuildTicks: s => { s.ticks = yOpts.ticks.map(v => ({ value: v })); },
    afterFit: s => { s.width = 89; },
    grid: axisGrid, border: axisBorder,
    ticks: { autoSkip: false, font: { size: 19 }, color: '#000', padding: 2,
             callback: v => v.toFixed(2) }
  };

  new Chart(cv, {
    type: 'scatter',
    data: { datasets: datasets },
    options: {
      responsive: false,
      animation: false,
      devicePixelRatio: 1,
      events: [],
      layout: { padding: side === 'L' ? { top: PAD, left: 0, right: 12, bottom: 0 }
                                      : { top: PAD, left: 12, right: 0, bottom: 0 } },
      plugins: { legend: { display: false }, tooltip: { enabled: false } },
      scales: {
        x: {
          type: 'linear', min: -20, max: 170,
          afterBuildTicks: s => { s.ticks = [0, 40, 80, 120, 160].map(v => ({ value: v })); },
          afterFit: s => { s.height = xh; },
          grid: axisGrid, border: axisBorder,
          ticks: { display: row === 3, autoSkip: false, maxRotation: 0, font: { size: 19 }, color: '#000', padding: 4 }
        },
        y: y
      }
    },
    plugins: [minorTicks, errorBars]
  });
}

// Row 1: DMF
panel(0, 'L', [
  ser('XL', dmfT, dmfStoXL, { errDown: dmfStoXLErr }),
  ser('XL', dmfT, dmfLosXL, { errDown: dmfLosXLErr }),
  ser('TR', dmfT, dmfStoTR, { err: dmfStoTRErr }),
  ser('TR', dmfT, dmfLosTR, { err: dmfLosTRErr }),
  ser('RT', dmfT, dmfStoRT, { err: dmfStoRTErr }),
  ser('RT', dmfT, dmfLosRT, { err: dmfLosRTErr })
]);
panel(0, 'R', [
  ser('XL', dmfTanXLT, dmfTanXL, { err: dmfTanXLErr }),
  ser('TR', dmfTanT, dmfTanTR, { err: dmfTanTRErr }),
  ser('RT', dmfTanT, dmfTanRT, { err: dmfTanRTErr })
], { min: 0.08, max: 0.16, ticks: [0.08, 0.12, 0.16] });

// Row 2: NMP
panel(1, 'L', [
  ser('XL', nmpT, nmpStoXL, { errDown: nmpStoXLErr }),
  ser('XL', nmpT, nmpLosXL, { errDown: nmpLosXLErr }),
  ser('TR', nmpT, nmpStoTR),
  ser('TR', nmpT, nmpLosTR),
  ser('RT', nmpT, nmpStoRT),
  ser('RT', nmpT, nmpLosRT)
]);
panel(1, 'R', [
  ser('XL', nmpTanXLT, nmpTanXL, { errUp: nmpTanXLUp, errDown: nmpTanXLDn }),
  ser('TR', nmpTanTRT, nmpTanTR),
  ser('RT', nmpT, nmpTanRT, { errUp: nmpTanRTUp, errDown: nmpTanRTDn })
], { min: 0.0697, max: 0.1695, ticks: [0.08, 0.12, 0.16] });

// Row 3: Ethylene glycol
panel(2, 'L', [
  ser('XL', glyT_Sto, glyStoXL, { errDown: glyStoXLErr }),
  ser('XL', glyT_LosXL, glyLosXL),
  ser('TR', glyT_Sto, glyStoTR),
  ser('TR', glyT_LosTR, glyLosTR),
  ser('RT', glyT_RT, glyStoRT),
  ser('RT', glyT_RT, glyLosRT)
]);
panel(2, 'R', [
  ser('XL', glyTanT, glyTanXL, { errDown: glyTanXLDn }),
  ser('TR', glyTanT, glyTanTR, { errUp: glyTanTRUp }),
  ser('RT', glyTanT, glyTanRT)
], { min: 0.04, max: 0.19, ticks: [0.04, 0.08, 0.12, 0.16] });

// Row 4: Glycerol
panel(3, 'L', [
  ser('XL', glcT, glcStoXL, { errDown: glcStoXLErr }),
  ser('XL', glcT_LosXL, glcLosXL, { errDown: glcLosXLErr }),
  ser('TR', glcT, glcStoTR),
  ser('TR', glcT, glcLosTR),
  ser('RT', glcT_RT, glcStoRT),
  ser('RT', glcT_RT, glcLosRT)
]);
panel(3, 'R', [
  ser('XL', glcTanXLT, glcTanXL, { errUp: glcTanXLUp, errDown: glcTanXLDn }),
  ser('TR', glcTanTRT, glcTanTR, { errUp: glcTanTRUp, errDown: glcTanTRDn }),
  ser('RT', glcTanRT_T, glcTanRT, { errUp: glcTanRTUp })
], { min: 0.04, max: 0.27, ticks: [0.04, 0.08, 0.12, 0.16, 0.20, 0.24] });
</script>
</body>
</html>
